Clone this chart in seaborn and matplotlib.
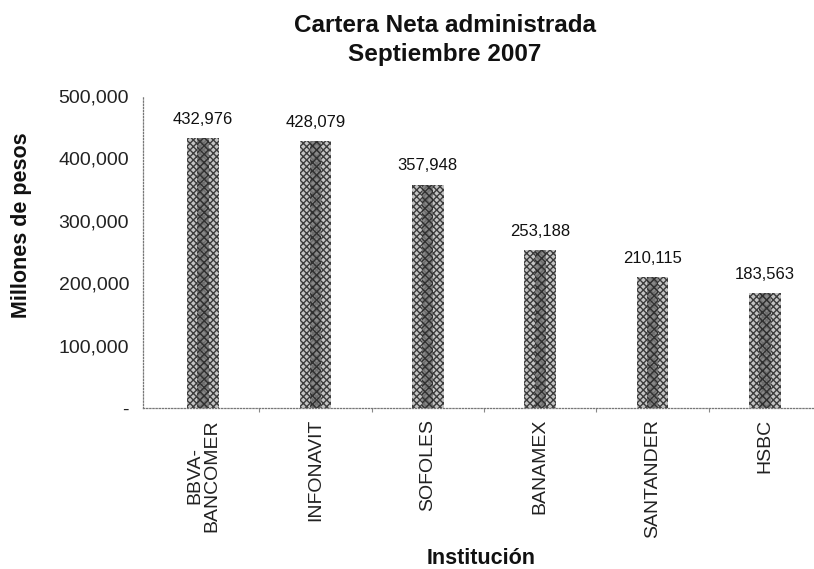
import matplotlib
matplotlib.use("Agg")
import matplotlib.pyplot as plt
import seaborn as sns
import pandas as pd

# datos
instituciones = ["BBVA-\nBANCOMER", "INFONAVIT", "SOFOLES", "BANAMEX", "SANTANDER", "HSBC"]
cartera = [432976, 428079, 357948, 253188, 210115, 183563]
yticks = [0, 100000, 200000, 300000, 400000, 500000]
ytick_labels = ["-", "100,000", "200,000", "300,000", "400,000", "500,000"]

sns.set_theme(style="white")
plt.rcParams["font.family"] = ["Liberation Sans", "DejaVu Sans"]

df = pd.DataFrame({"inst": instituciones, "valor": cartera})

fig = plt.figure(figsize=(8.14, 5.69), dpi=100)
W, H = 814, 569
ax = fig.add_axes([143 / W, 1 - 408 / H, (814 - 143) / W, (408 - 96) / H])

# barra exterior con trama cruzada
sns.barplot(data=df, x="inst", y="valor", ax=ax, width=0.28,
            color="#c4c4c4", edgecolor="#3c3c3c", linewidth=0)
for p in ax.patches:
    p.set_hatch("xxxxx")
# centro mas oscuro (efecto cilindro)
sns.barplot(data=df, x="inst", y="valor", ax=ax, width=0.1,
            color="#7a7a7a", edgecolor="#1e1e1e", linewidth=0)
for p in ax.patches[len(instituciones):]:
    p.set_hatch("xxxx")
    p.set_alpha(0.8)

for i, v in enumerate(cartera):
    ax.text(i, v + 18000, f"{v:,}", ha="center", va="bottom", fontsize=12, color="#111111")

ax.set_ylim(0, 500000)
ax.set_xlim(-0.534, 5.436)
ax.set_yticks(yticks)
ax.set_yticklabels(ytick_labels, fontsize=14, color="#222222")
ax.set_xticks(range(len(instituciones)))
ax.set_xticklabels(instituciones, rotation=90, fontsize=14, color="#222222",
                   linespacing=1.0, multialignment="center")
ax.set_xticks([i + 0.5 for i in range(len(instituciones) - 1)], minor=True)
ax.set_xlabel("")
ax.set_ylabel("")
ax.tick_params(axis="y", length=3, width=0.8, color="#888888", pad=7)
ax.tick_params(axis="x", which="major", length=0, pad=8)
ax.tick_params(axis="x", which="minor", length=3, width=0.8, color="#888888",
               bottom=True, direction="out")

for s in ["top", "right"]:
    ax.spines[s].set_visible(False)
for s in ["left", "bottom"]:
    ax.spines[s].set_linestyle((0, (1, 1.5)))
    ax.spines[s].set_color("#777777")
    ax.spines[s].set_linewidth(0.9)

fig.text(445 / W, 1 - 25 / H, "Cartera Neta administrada", ha="center", va="center",
         fontsize=17.5, fontweight="bold", color="#111111")
fig.text(445 / W, 1 - 55 / H, "Septiembre 2007", ha="center", va="center",
         fontsize=17.5, fontweight="bold", color="#111111")
fig.text(481 / W, 1 - 559 / H, "Institución", ha="center", va="center",
         fontsize=15.5, fontweight="bold", color="#111111")
fig.text(22 / W, 1 - 225 / H, "Millones de pesos", ha="center", va="center",
         rotation=90, fontsize=15.5, fontweight="bold", color="#111111")

fig.savefig("out.png", dpi=100)
